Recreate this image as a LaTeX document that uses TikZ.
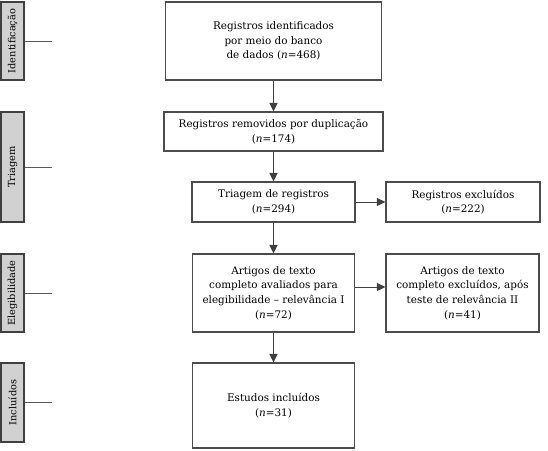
\documentclass[tikz,border=0pt]{standalone}
\usepackage{fontspec}
\setmainfont{DejaVu Serif}
\usepackage{tikz}
\usetikzlibrary {arrows.meta}

\newcommand{\nval}[1]{(\textit{n}=#1)}

\begin{document}
\begin{tikzpicture}[x=1pt, y=-1pt,
    box/.style={draw=black!70, line width=1.2pt, align=center, inner sep=0pt, font=\fontsize{10.4}{14.6}\selectfont},
    phase/.style={draw=black!75, line width=1.2pt, fill=black!18, rotate=90, inner sep=0pt, minimum height=23pt, font=\fontsize{9.8}{12}\selectfont},
    flow/.style={-{Triangle[length=8.5pt, width=8pt]}, line width=1.3pt, draw=black!75},
    tick/.style={line width=1pt, draw=black!65}]
    \useasboundingbox (0, 0) rectangle (548, 450);

    %Phases
    \node[phase, minimum width=78pt] at (12.5, 41) (pid) {Identificação};
    \node[phase, minimum width=110pt] at (12.5, 167) (ptr) {Triagem};
    \node[phase, minimum width=78pt] at (12.5, 293) (pel) {Elegibilidade};
    \node[phase, minimum width=79pt] at (12.5, 402.5) (pin) {Incluídos};

    %Nodes
    \node[box, minimum width=216pt, minimum height=78pt] at (273.5, 41) (reg) {Registros identificados\\por meio do banco\\de dados \nval{468}};
    \node[box, minimum width=219pt, minimum height=39pt] at (273.5, 131.5) (dup) {Registros removidos por duplicação\\\nval{174}};
    \node[box, minimum width=163pt, minimum height=40pt] at (273.5, 202) (tri) {Triagem de registros\\\nval{294}};
    \node[box, minimum width=154pt, minimum height=40pt] at (463, 202) (exc) {Registros excluídos\\\nval{222}};
    \node[box, minimum width=162pt, minimum height=78pt] at (273.5, 293) (art) {Artigos de texto\\completo avaliados para\\elegibilidade -- relevância I\\\nval{72}};
    \node[box, minimum width=153pt, minimum height=78pt] at (462.5, 293) (artexc) {Artigos de texto\\completo excluídos, após\\teste de relevância II\\\nval{41}};
    \node[box, minimum width=162pt, minimum height=85pt] at (273.5, 405.5) (inc) {Estudos incluídos\\\nval{31}};

    %Phase ticks
    \coordinate (tid) at (52, 41);
    \coordinate (ttr) at (52, 167);
    \coordinate (tel) at (52, 293);
    \coordinate (tin) at (52, 402.5);
    \draw[tick] (pid.south) -- (tid);
    \draw[tick] (ptr.south) -- (ttr);
    \draw[tick] (pel.south) -- (tel);
    \draw[tick] (pin.south) -- (tin);

    %Lines
    \draw[flow] (reg.south) -- (dup.north);
    \draw[flow] (dup.south) -- (tri.north);
    \draw[flow, line width=0.9pt] (tri.east) -- (exc.west);
    \draw[flow] (tri.south) -- (art.north);
    \draw[flow, line width=0.9pt] ([yshift=6pt]art.east) -- ([yshift=6pt]artexc.west);
    \draw[flow] (art.south) -- (inc.north);

\end{tikzpicture}
\end{document}
